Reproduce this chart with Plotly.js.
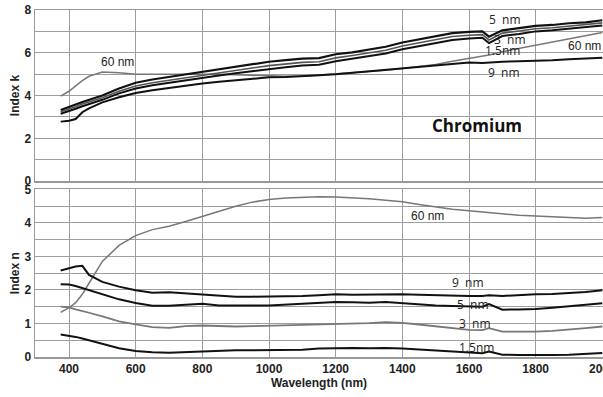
<!DOCTYPE html>
<html>
<head>
<meta charset="utf-8">
<script src="https://cdn.plot.ly/plotly-3.0.1.min.js"></script>
<style>html,body{margin:0;padding:0;background:#fff;}#chart{width:603px;height:397px;}</style>
</head>
<body>
<div id="chart"></div>
<script>
// Wavelength samples (nm)
const wavelength = [375, 400, 420, 440, 460, 500, 550, 600, 650, 700, 750, 800, 850, 900, 950, 1000, 1050, 1100, 1150, 1200, 1250, 1300, 1350, 1400, 1450, 1500, 1550, 1600, 1640, 1660, 1700, 1750, 1800, 1850, 1900, 1950, 2000];

// Extinction coefficient k
const k_5nm   = [3.32, 3.45, 3.58, 3.7, 3.8, 4.0, 4.33, 4.6, 4.75, 4.87, 4.98, 5.1, 5.22, 5.33, 5.45, 5.58, 5.66, 5.73, 5.75, 5.93, 6.02, 6.15, 6.28, 6.48, 6.62, 6.78, 6.92, 6.98, 7.0, 6.75, 7.05, 7.15, 7.26, 7.3, 7.38, 7.42, 7.52];
const k_3nm   = [3.24, 3.36, 3.48, 3.6, 3.7, 3.9, 4.2, 4.45, 4.6, 4.72, 4.84, 4.96, 5.08, 5.18, 5.29, 5.4, 5.48, 5.55, 5.58, 5.76, 5.87, 6.0, 6.12, 6.32, 6.47, 6.62, 6.76, 6.82, 6.85, 6.6, 6.92, 7.02, 7.12, 7.17, 7.25, 7.3, 7.4];
const k_1p5nm = [3.15, 3.26, 3.38, 3.5, 3.6, 3.8, 4.1, 4.33, 4.48, 4.6, 4.72, 4.83, 4.94, 5.04, 5.14, 5.25, 5.32, 5.4, 5.44, 5.6, 5.72, 5.85, 5.97, 6.16, 6.3, 6.45, 6.6, 6.67, 6.7, 6.45, 6.78, 6.88, 7.0, 7.05, 7.12, 7.18, 7.28];
const k_9nm   = [2.78, 2.82, 2.9, 3.22, 3.4, 3.68, 3.92, 4.12, 4.25, 4.36, 4.46, 4.56, 4.65, 4.72, 4.78, 4.85, 4.87, 4.9, 4.95, 5.0, 5.07, 5.13, 5.2, 5.27, 5.35, 5.42, 5.5, 5.55, 5.52, 5.55, 5.58, 5.6, 5.62, 5.65, 5.7, 5.72, 5.77];
const k_60nm  = [3.97, 4.2, 4.45, 4.7, 4.9, 5.1, 5.06, 5.0, 5.0, 5.0, 5.0, 5.02, 5.0, 4.97, 4.94, 4.92, 4.9, 4.9, 4.95, 5.0, 5.06, 5.12, 5.18, 5.26, 5.36, 5.45, 5.6, 5.73, 5.85, 5.9, 6.05, 6.2, 6.35, 6.5, 6.65, 6.8, 6.95];

// Refractive index n
const n_60nm  = [1.33, 1.47, 1.62, 1.87, 2.2, 2.85, 3.33, 3.62, 3.8, 3.9, 4.04, 4.19, 4.35, 4.5, 4.62, 4.7, 4.74, 4.76, 4.78, 4.77, 4.75, 4.72, 4.68, 4.63, 4.55, 4.47, 4.41, 4.36, 4.32, 4.3, 4.26, 4.23, 4.21, 4.18, 4.16, 4.14, 4.16];
const n_9nm   = [2.58, 2.65, 2.7, 2.72, 2.45, 2.24, 2.1, 1.99, 1.92, 1.93, 1.9, 1.87, 1.84, 1.8, 1.8, 1.8, 1.82, 1.82, 1.84, 1.87, 1.86, 1.87, 1.88, 1.87, 1.86, 1.84, 1.82, 1.82, 1.82, 1.84, 1.82, 1.85, 1.87, 1.88, 1.9, 1.94, 1.99];
const n_5nm   = [2.17, 2.16, 2.12, 2.06, 2.0, 1.87, 1.72, 1.61, 1.53, 1.53, 1.56, 1.59, 1.54, 1.53, 1.54, 1.54, 1.57, 1.6, 1.61, 1.64, 1.63, 1.62, 1.64, 1.6, 1.57, 1.54, 1.52, 1.52, 1.5, 1.58, 1.41, 1.42, 1.43, 1.47, 1.52, 1.56, 1.6];
const n_3nm   = [1.5, 1.48, 1.42, 1.36, 1.32, 1.21, 1.06, 0.97, 0.89, 0.87, 0.92, 0.94, 0.92, 0.91, 0.92, 0.93, 0.95, 0.96, 0.98, 0.99, 1.0, 1.01, 1.04, 1.02, 0.97, 0.91, 0.86, 0.81, 0.8, 0.86, 0.76, 0.75, 0.76, 0.78, 0.81, 0.86, 0.91];
const n_1p5nm = [0.67, 0.64, 0.6, 0.55, 0.5, 0.39, 0.26, 0.18, 0.14, 0.13, 0.15, 0.18, 0.19, 0.2, 0.2, 0.2, 0.21, 0.22, 0.25, 0.27, 0.27, 0.26, 0.27, 0.25, 0.22, 0.2, 0.16, 0.12, 0.11, 0.16, 0.07, 0.06, 0.05, 0.06, 0.07, 0.1, 0.12];

// Curve labels
const kLabels = [
  {text: "60 nm", x: 546, y: 5.55, font: "Liberation Sans"},
  {text: "5  nm", x: 1707, y: 7.54, font: "Open Sans"},
  {text: "3  nm", x: 1722, y: 6.64, font: "Open Sans"},
  {text: "1.5nm", x: 1701, y: 6.12, font: "Open Sans"},
  {text: "9  nm", x: 1704, y: 5.08, font: "Open Sans"},
  {text: "60 nm", x: 1947, y: 6.31, font: "Liberation Sans"}
];
const nLabels = [
  {text: "60 nm", x: 1475, y: 4.21, font: "Liberation Sans"},
  {text: "9  nm", x: 1596, y: 2.23, font: "Open Sans"},
  {text: "5  nm", x: 1611, y: 1.57, font: "Open Sans"},
  {text: "3  nm", x: 1617, y: 0.99, font: "Open Sans"},
  {text: "1.5nm", x: 1623, y: 0.29, font: "Open Sans"}
];

const BLACK = "#111";
const GRAY = "#777";
function tr(y, color, width, xaxis, yaxis) {
  return {x: wavelength, y: y, type: "scatter", mode: "lines",
          line: {color: color, width: width}, xaxis: xaxis, yaxis: yaxis,
          hoverinfo: "skip", showlegend: false};
}

const data = [
  tr(k_60nm, GRAY, 1.5, "x2", "y"),
  tr(k_9nm, BLACK, 2, "x2", "y"),
  tr(k_1p5nm, BLACK, 2, "x2", "y"),
  tr(k_3nm, "#555", 1.6, "x2", "y"),
  tr(k_5nm, BLACK, 2.2, "x2", "y"),
  tr(n_60nm, GRAY, 1.5, "x", "y2"),
  tr(n_9nm, BLACK, 2, "x", "y2"),
  tr(n_5nm, BLACK, 2, "x", "y2"),
  tr(n_3nm, GRAY, 1.8, "x", "y2"),
  tr(n_1p5nm, BLACK, 2, "x", "y2")
];

const annotations = [];
kLabels.forEach(l => annotations.push({text: l.text, x: l.x, y: l.y, xref: "x2", yref: "y",
  showarrow: false, font: {family: l.font, size: 12, color: "#222"}}));
nLabels.forEach(l => annotations.push({text: l.text, x: l.x, y: l.y, xref: "x", yref: "y2",
  showarrow: false, font: {family: l.font, size: 12, color: "#222"}}));
annotations.push({text: "<b>Chromium</b>", x: 1623, y: 2.59, xref: "x2", yref: "y",
  showarrow: false, font: {family: "Open Sans", size: 17, color: "#111"}});

const tickFont = {family: "Liberation Sans", size: 12, color: "#222", weight: "bold"};
const GRID = "#9e9e9e";
const xTicks = [400, 600, 800, 1000, 1200, 1400, 1600, 1800, 2000];
const titleFont = {family: "Liberation Sans", size: 12, color: "#222", weight: "bold"};

const layout = {
  width: 603, height: 397,
  margin: {l: 35, r: 0, t: 10, b: 40},
  paper_bgcolor: "#fff", plot_bgcolor: "#fff",
  showlegend: false,
  xaxis: {
    range: [298, 2002], tickvals: xTicks, ticktext: xTicks.map(String),
    showgrid: true, gridcolor: GRID, gridwidth: 1, zeroline: false,
    showline: true, linecolor: "#999", linewidth: 1.5, mirror: true,
    ticks: "", tickfont: tickFont, ticklabeloverflow: "allow",
    anchor: "y2",
    title: {text: "Wavelength (nm)", font: titleFont, standoff: 3}
  },
  xaxis2: {
    matches: "x", anchor: "y", range: [298, 2002], tickvals: xTicks,
    showticklabels: false, showgrid: true, gridcolor: GRID, zeroline: false,
    showline: true, linecolor: "#999", linewidth: 1.5, mirror: true, ticks: ""
  },
  yaxis: {
    domain: [0.507, 1], range: [0, 8], tickvals: [0, 2, 4, 6, 8],
    showgrid: true, gridcolor: GRID, zeroline: false,
    minor: {dtick: 1, tick0: 0, showgrid: true, gridcolor: GRID, ticks: ""},
    showline: true, linecolor: "#999", linewidth: 1.5, mirror: true,
    ticks: "", tickfont: tickFont, anchor: "x2",
    title: {text: "Index k", font: titleFont, standoff: 2}
  },
  yaxis2: {
    domain: [0, 0.483], range: [0, 5], tickvals: [0, 1, 2, 3, 4, 5],
    showgrid: true, gridcolor: GRID, zeroline: false,
    minor: {dtick: 0.5, tick0: 0, showgrid: true, gridcolor: GRID, ticks: ""},
    showline: true, linecolor: "#999", linewidth: 1.5, mirror: true,
    ticks: "", tickfont: tickFont, anchor: "x",
    title: {text: "Index n", font: titleFont, standoff: 2}
  },
  annotations: annotations
};

Plotly.newPlot("chart", data, layout, {staticPlot: true, displayModeBar: false});
</script>
</body>
</html>
